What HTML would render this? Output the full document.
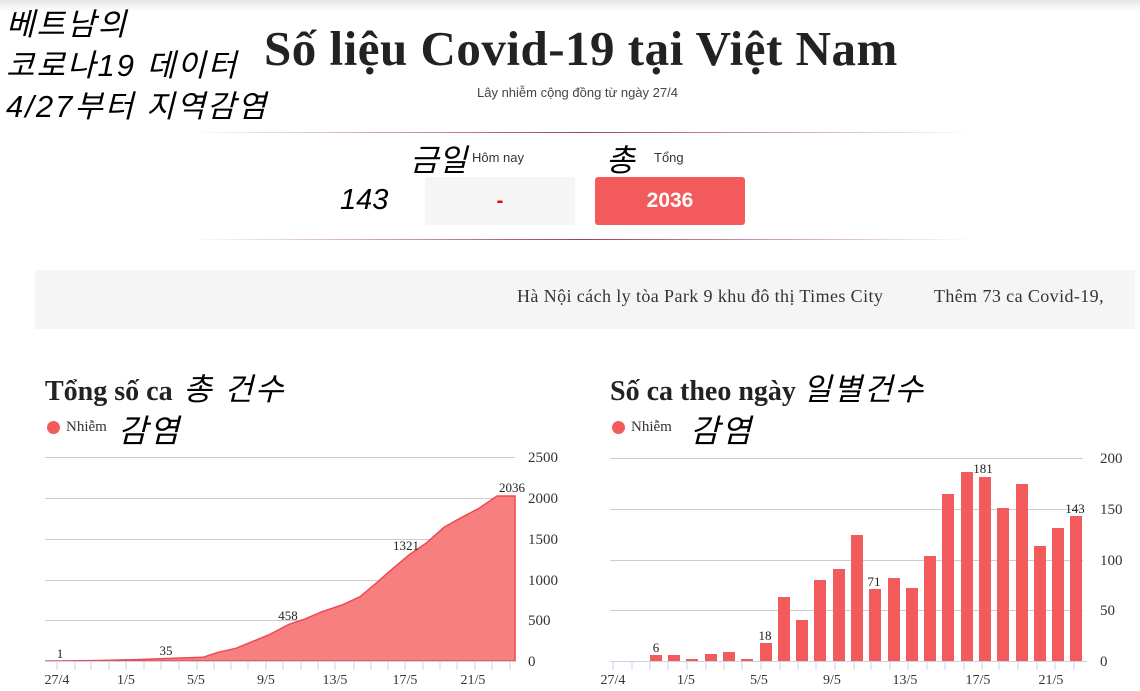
<!DOCTYPE html>
<html><head><meta charset="utf-8"><style>
body{margin:0;width:1140px;height:691px;position:relative;background:#fff;overflow:hidden;font-family:"Liberation Sans",sans-serif}
.a{position:absolute;white-space:nowrap}
.kr{font-family:"Liberation Sans","Noto Sans CJK KR",sans-serif;font-style:italic;color:#000;font-weight:normal}
.sf{font-family:"Liberation Serif","Noto Serif CJK SC",serif}
</style></head><body>
<div class="a" style="left:0;top:0;width:1140px;height:12px;background:linear-gradient(#e6e6e6,#fff)"></div>
<div class="a kr" style="left:6px;top:4px;font-size:31px;line-height:41px;letter-spacing:2px">베트남의<br>코로나19 데이터<br>4/27부터 지역감염</div>
<div class="a sf" style="left:264px;top:20px;font-size:49px;font-weight:bold;color:#222;letter-spacing:0.5px">Số liệu Covid-19 tại Việt Nam</div>
<div class="a" style="left:477px;top:85px;font-size:13px;color:#444">Lây nhiễm cộng đồng từ ngày 27/4</div>
<div class="a" style="left:190px;top:132px;width:785px;height:1px;background:linear-gradient(90deg,#fff,#a04060 50%,#fff)"></div>
<div class="a" style="left:190px;top:239px;width:785px;height:1px;background:linear-gradient(90deg,#fff,#a04060 50%,#fff)"></div>
<div class="a kr" style="left:410px;top:135px;font-size:31px">금일</div>
<div class="a" style="left:472px;top:150px;font-size:13px;color:#333">Hôm nay</div>
<div class="a kr" style="left:606px;top:135px;font-size:31px">총</div>
<div class="a" style="left:654px;top:150px;font-size:13px;color:#333">Tổng</div>
<div class="a kr" style="left:340px;top:184px;font-size:29px">143</div>
<div class="a" style="left:425px;top:177px;width:150px;height:48px;background:#f5f5f5;border-radius:3px;color:#e00;font-size:20px;text-align:center;line-height:48px;font-weight:bold">-</div>
<div class="a" style="left:595px;top:177px;width:150px;height:48px;background:#f25a5c;border-radius:3px;color:#fff;font-size:21px;text-align:center;line-height:48px;font-weight:bold">2036</div>
<div class="a" style="left:35px;top:270px;width:1100px;height:59px;background:#f5f5f5"></div>
<div class="a sf" style="left:517px;top:286px;font-size:18px;color:#333;letter-spacing:0.4px">Hà Nội cách ly tòa Park 9 khu đô thị Times City</div>
<div class="a sf" style="left:934px;top:286px;font-size:18px;color:#333;width:175px;overflow:hidden;letter-spacing:0.4px">Thêm 73 ca Covid-19, c</div>
<div class="a sf" style="left:45px;top:364px;font-size:28px;font-weight:bold;color:#222">Tổng số ca<span class="kr" style="font-size:31px;letter-spacing:2px"> 총 건수</span></div>
<div class="a sf" style="left:610px;top:364px;font-size:28px;font-weight:bold;color:#222">Số ca theo ngày <span class="kr" style="font-size:31px;letter-spacing:2px">일별건수</span></div>
<div class="a" style="left:47px;top:421px;width:13px;height:13px;border-radius:50%;background:#f25a5c"></div>
<div class="a sf" style="left:66px;top:419px;font-size:15px;color:#333">Nhiễm</div>
<div class="a kr" style="left:118px;top:406px;font-size:32px;letter-spacing:2px">감염</div>
<div class="a" style="left:612px;top:421px;width:13px;height:13px;border-radius:50%;background:#f25a5c"></div>
<div class="a sf" style="left:631px;top:419px;font-size:15px;color:#333">Nhiễm</div>
<div class="a kr" style="left:690px;top:406px;font-size:32px;letter-spacing:2px">감염</div>
<svg class="a" style="left:0;top:0" width="1140" height="691" font-family="Liberation Serif,serif" font-size="14" fill="#333">
<g stroke="#ccc" stroke-width="1">
<line x1="45" x2="515" y1="457.5" y2="457.5"/><line x1="45" x2="515" y1="498.5" y2="498.5"/><line x1="45" x2="515" y1="539.5" y2="539.5"/><line x1="45" x2="515" y1="580.5" y2="580.5"/><line x1="45" x2="515" y1="620.5" y2="620.5"/>
<line x1="610" x2="1083" y1="458.5" y2="458.5"/><line x1="610" x2="1083" y1="509.5" y2="509.5"/><line x1="610" x2="1083" y1="560.5" y2="560.5"/><line x1="610" x2="1083" y1="610.5" y2="610.5"/>
</g>
<polygon fill="#f77f7f" stroke="#ee4b52" stroke-width="1.5" points="45,661 60,661 100,660.5 140,659.5 181,658 203,657.3 218,652.3 236,648.3 252,641.7 270,634.3 289,624.3 305,619 322,611.7 342,605 360,596.7 376,583.3 393,568.3 409,555 426,543.3 444,527.3 460,518.3 479,508.3 497,496 515,496 515,661"/>
<line x1="45" x2="515" y1="661.5" y2="661.5" stroke="#c8d4e8"/>
<line x1="610" x2="1087" y1="661.5" y2="661.5" stroke="#c8d4e8"/>
<g stroke="#c8d4e8">
<path d="M57 662v8M75 662v8M91 662v8M109 662v8M126 662v8M144 662v8M161 662v8M179 662v8M197 662v8M214 662v8M231 662v8M248 662v8M266 662v8M283 662v8M301 662v8M318 662v8M335 662v8M354 662v8M371 662v8M388 662v8M405 662v8M423 662v8M440 662v8M457 662v8M475 662v8M492 662v8M510 662v8"/>
<path d="M613 662v8M632 662v8M650 662v8M668 662v8M687 662v8M706 662v8M724 662v8M742 662v8M761 662v8M780 662v8M798 662v8M816 662v8M835 662v8M854 662v8M871 662v8M890 662v8M908 662v8M927 662v8M945 662v8M964 662v8M982 662v8M999 662v8M1018 662v8M1037 662v8M1055 662v8M1074 662v8"/>
</g>
<g fill="#f25a5c">
<rect x="650" y="655" width="12" height="6"/><rect x="668" y="655" width="12" height="6"/><rect x="686" y="659" width="12" height="2"/><rect x="705" y="654" width="12" height="7"/><rect x="723" y="652" width="12" height="9"/><rect x="741" y="659" width="12" height="2"/><rect x="760" y="643" width="12" height="18"/><rect x="778" y="597" width="12" height="64"/><rect x="796" y="620" width="12" height="41"/><rect x="814" y="580" width="12" height="81"/><rect x="833" y="569" width="12" height="92"/><rect x="851" y="535" width="12" height="126"/><rect x="869" y="589" width="12" height="72"/><rect x="888" y="578" width="12" height="83"/><rect x="906" y="588" width="12" height="73"/><rect x="924" y="556" width="12" height="105"/><rect x="942" y="494" width="12" height="167"/><rect x="961" y="472" width="12" height="189"/><rect x="979" y="477" width="12" height="184"/><rect x="997" y="508" width="12" height="153"/><rect x="1016" y="484" width="12" height="177"/><rect x="1034" y="546" width="12" height="115"/><rect x="1052" y="528" width="12" height="133"/><rect x="1070" y="516" width="12" height="145"/>
</g>
<g font-size="13" text-anchor="middle" fill="#222">
<text x="60" y="658">1</text><text x="166" y="655">35</text><text x="288" y="620">458</text><text x="406" y="550">1321</text><text x="512" y="492">2036</text>
<text x="656" y="652">6</text><text x="765" y="640">18</text><text x="874" y="586">71</text><text x="983" y="473">181</text><text x="1075" y="513">143</text>
</g>
<g font-size="15">
<text x="528" y="462">2500</text><text x="528" y="503">2000</text><text x="528" y="544">1500</text><text x="528" y="585">1000</text><text x="528" y="625">500</text><text x="528" y="666">0</text>
<text x="1100" y="463">200</text><text x="1100" y="514">150</text><text x="1100" y="565">100</text><text x="1100" y="615">50</text><text x="1100" y="666">0</text>
</g>
<g font-size="14" text-anchor="middle">
<text x="57" y="684">27/4</text><text x="126" y="684">1/5</text><text x="196" y="684">5/5</text><text x="266" y="684">9/5</text><text x="335" y="684">13/5</text><text x="405" y="684">17/5</text><text x="473" y="684">21/5</text>
<text x="613" y="684">27/4</text><text x="686" y="684">1/5</text><text x="759" y="684">5/5</text><text x="832" y="684">9/5</text><text x="905" y="684">13/5</text><text x="978" y="684">17/5</text><text x="1051" y="684">21/5</text>
</g>
</svg>
</body></html>
